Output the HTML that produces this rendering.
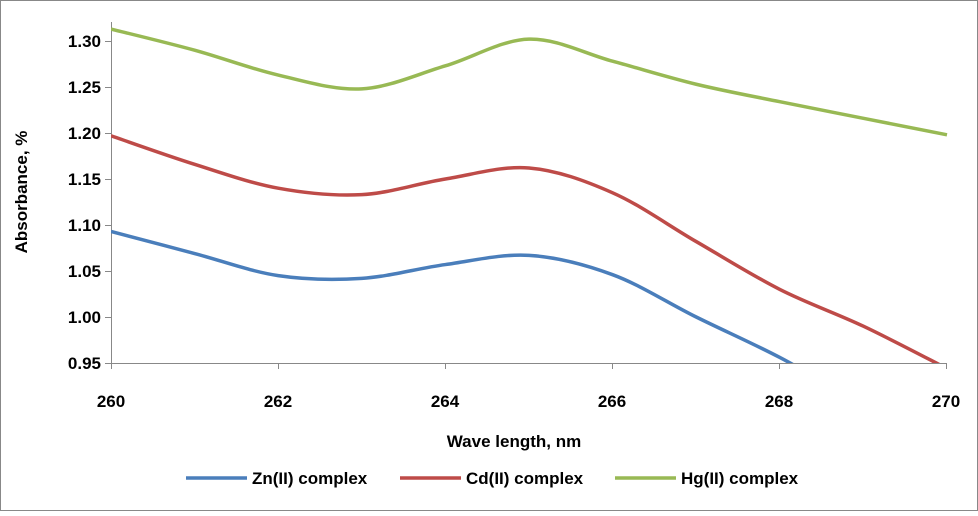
<!DOCTYPE html>
<html><head><meta charset="utf-8"><style>
body{margin:0;background:#fff}
svg text{font-family:"Liberation Sans",sans-serif;font-weight:bold;fill:#000}
</style></head><body>
<svg id="s" width="978" height="511" xmlns="http://www.w3.org/2000/svg">
<rect x="0.5" y="0.5" width="977" height="510" fill="#fff" stroke="#888" stroke-width="1"/>
<defs><clipPath id="c"><rect x="111" y="10" width="837" height="353"/></clipPath></defs>
<g stroke="#888" stroke-width="1">
<line x1="111.5" y1="22" x2="111.5" y2="363"/>
<line x1="111" y1="363.5" x2="947" y2="363.5"/>
<line x1="105" y1="41.5" x2="111" y2="41.5"/><line x1="105" y1="87.5" x2="111" y2="87.5"/>
<line x1="105" y1="133.5" x2="111" y2="133.5"/><line x1="105" y1="179.5" x2="111" y2="179.5"/>
<line x1="105" y1="225.5" x2="111" y2="225.5"/><line x1="105" y1="271.5" x2="111" y2="271.5"/>
<line x1="105" y1="317.5" x2="111" y2="317.5"/><line x1="105" y1="363.5" x2="111" y2="363.5"/>
<line x1="111.5" y1="363" x2="111.5" y2="369"/><line x1="278.5" y1="363" x2="278.5" y2="369"/>
<line x1="445.5" y1="363" x2="445.5" y2="369"/><line x1="612.5" y1="363" x2="612.5" y2="369"/>
<line x1="779.5" y1="363" x2="779.5" y2="369"/><line x1="946.5" y1="363" x2="946.5" y2="369"/>
</g>
<g font-size="17" text-anchor="end">
<text x="101" y="47">1.30</text><text x="101" y="93">1.25</text><text x="101" y="139">1.20</text>
<text x="101" y="185">1.15</text><text x="101" y="231">1.10</text><text x="101" y="277">1.05</text>
<text x="101" y="323">1.00</text><text x="101" y="369">0.95</text>
</g>
<g font-size="17" text-anchor="middle">
<text x="111" y="407">260</text><text x="278" y="407">262</text><text x="445" y="407">264</text>
<text x="612" y="407">266</text><text x="779" y="407">268</text><text x="946" y="407">270</text>
<text x="514" y="447">Wave length, nm</text>
<text transform="translate(27,192) rotate(-90)">Absorbance, %</text>
</g>
<g id="series" clip-path="url(#c)" fill="none" stroke-width="3.5"></g>
<g font-size="17">
<line x1="186" y1="478" x2="247" y2="478" stroke="#4a7ebb" stroke-width="3.5"/><text x="252" y="484">Zn(II) complex</text>
<line x1="400" y1="478" x2="461" y2="478" stroke="#be4b48" stroke-width="3.5"/><text x="466" y="484">Cd(II) complex</text>
<line x1="615" y1="478" x2="676" y2="478" stroke="#98b954" stroke-width="3.5"/><text x="681" y="484">Hg(II) complex</text>
</g>
</svg>
<script>
var data=[["#4a7ebb",[1.093,1.069,1.045,1.042,1.057,1.067,1.046,1.0,0.956,0.905,0.86]],
["#be4b48",[1.197,1.166,1.140,1.133,1.150,1.162,1.135,1.082,1.030,0.99,0.944]],
["#98b954",[1.313,1.290,1.263,1.248,1.273,1.302,1.278,1.253,1.234,1.216,1.198]]];
function X(i){return 111+i*83.6}function Y(v){return 363-(v-0.95)*920}
var g=document.getElementById("series");
data.forEach(function(d){var p=d[1].map(function(v,i){return[X(i),Y(v)]});
var s="M"+p[0][0]+","+p[0][1];
for(var i=0;i<p.length-1;i++){var p0=p[i-1]||p[i],p1=p[i],p2=p[i+1],p3=p[i+2]||p2;
var t=6;s+=" C"+(p1[0]+(p2[0]-p0[0])/t)+","+(p1[1]+(p2[1]-p0[1])/t)+" "+(p2[0]-(p3[0]-p1[0])/t)+","+(p2[1]-(p3[1]-p1[1])/t)+" "+p2[0]+","+p2[1];}
var e=document.createElementNS("http://www.w3.org/2000/svg","path");e.setAttribute("d",s);e.setAttribute("stroke",d[0]);g.appendChild(e);});
</script>
</body></html>
